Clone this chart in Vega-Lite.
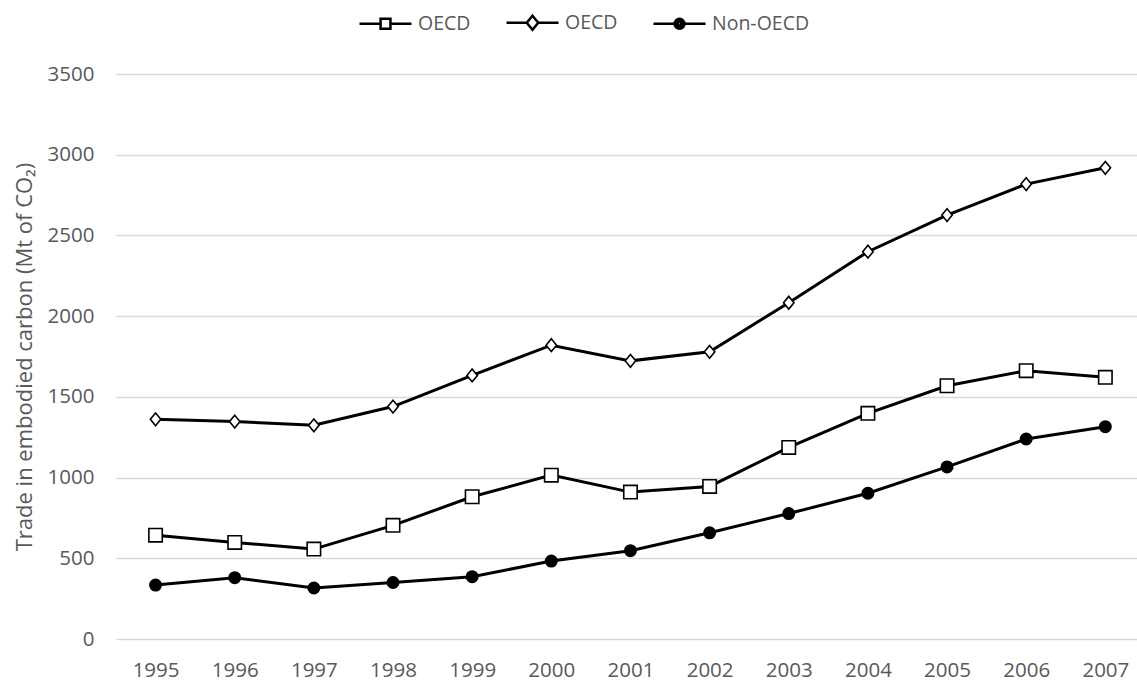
{
  "$schema": "https://vega.github.io/schema/vega-lite/v6.json",
  "width": 1021,
  "height": 565,
  "autosize": {"type": "none"},
  "padding": {"left": 116, "top": 74, "right": 0, "bottom": 42},
  "background": "white",
  "config": {
    "font": "Open Sans",
    "view": {"stroke": null},
    "axis": {"labelFont": "Open Sans", "titleFont": "Open Sans"}
  },
  "data": {
    "values": [
      {"year": 1995, "series": "OECD-1", "value": 643},
      {"year": 1996, "series": "OECD-1", "value": 598},
      {"year": 1997, "series": "OECD-1", "value": 557},
      {"year": 1998, "series": "OECD-1", "value": 704},
      {"year": 1999, "series": "OECD-1", "value": 881},
      {"year": 2000, "series": "OECD-1", "value": 1015},
      {"year": 2001, "series": "OECD-1", "value": 910},
      {"year": 2002, "series": "OECD-1", "value": 945},
      {"year": 2003, "series": "OECD-1", "value": 1187},
      {"year": 2004, "series": "OECD-1", "value": 1398},
      {"year": 2005, "series": "OECD-1", "value": 1569},
      {"year": 2006, "series": "OECD-1", "value": 1662},
      {"year": 2007, "series": "OECD-1", "value": 1621},
      {"year": 1995, "series": "OECD-2", "value": 1361},
      {"year": 1996, "series": "OECD-2", "value": 1347},
      {"year": 1997, "series": "OECD-2", "value": 1324},
      {"year": 1998, "series": "OECD-2", "value": 1440},
      {"year": 1999, "series": "OECD-2", "value": 1633},
      {"year": 2000, "series": "OECD-2", "value": 1820},
      {"year": 2001, "series": "OECD-2", "value": 1723},
      {"year": 2002, "series": "OECD-2", "value": 1779},
      {"year": 2003, "series": "OECD-2", "value": 2083},
      {"year": 2004, "series": "OECD-2", "value": 2399},
      {"year": 2005, "series": "OECD-2", "value": 2626},
      {"year": 2006, "series": "OECD-2", "value": 2818},
      {"year": 2007, "series": "OECD-2", "value": 2919},
      {"year": 1995, "series": "Non-OECD", "value": 334},
      {"year": 1996, "series": "Non-OECD", "value": 380},
      {"year": 1997, "series": "Non-OECD", "value": 316},
      {"year": 1998, "series": "Non-OECD", "value": 350},
      {"year": 1999, "series": "Non-OECD", "value": 386},
      {"year": 2000, "series": "Non-OECD", "value": 483},
      {"year": 2001, "series": "Non-OECD", "value": 547},
      {"year": 2002, "series": "Non-OECD", "value": 658},
      {"year": 2003, "series": "Non-OECD", "value": 777},
      {"year": 2004, "series": "Non-OECD", "value": 903},
      {"year": 2005, "series": "Non-OECD", "value": 1066},
      {"year": 2006, "series": "Non-OECD", "value": 1239},
      {"year": 2007, "series": "Non-OECD", "value": 1315}
    ]
  },
  "encoding": {
    "x": {
      "field": "year",
      "type": "quantitative",
      "scale": {"domain": [1994.5, 2007.4], "nice": false, "zero": false},
      "axis": {
        "values": [1995, 1996, 1997, 1998, 1999, 2000, 2001, 2002, 2003, 2004, 2005, 2006, 2007],
        "format": "d",
        "grid": false,
        "domain": false,
        "ticks": false,
        "labelPadding": 21,
        "labelFontSize": 20.5,
        "labelColor": "#595959",
        "title": null
      }
    },
    "y": {
      "field": "value",
      "type": "quantitative",
      "scale": {"domain": [0, 3500], "nice": false},
      "axis": {
        "values": [0, 500, 1000, 1500, 2000, 2500, 3000, 3500],
        "format": "d",
        "grid": true,
        "gridColor": "#d9d9d9",
        "gridWidth": 1.5,
        "domain": false,
        "ticks": false,
        "labelPadding": 22,
        "labelFontSize": 20.5,
        "labelColor": "#595959",
        "title": "Trade in embodied carbon (Mt of CO₂)",
        "titleFontSize": 22,
        "titleFontWeight": "normal",
        "titleColor": "#595959",
        "titleAngle": -90,
        "titleX": -92,
        "titleY": 282.5,
        "titleBaseline": "middle",
        "titleAlign": "center"
      }
    }
  },
  "layer": [
    {
      "mark": {"type": "line", "color": "black", "strokeWidth": 3},
      "encoding": {"detail": {"field": "series", "type": "nominal"}}
    },
    {
      "mark": {"type": "point", "stroke": "black", "strokeWidth": 1.6, "opacity": 1, "size": 180},
      "encoding": {
        "shape": {
          "field": "series",
          "type": "nominal",
          "scale": {
            "domain": ["OECD-1", "OECD-2", "Non-OECD"],
            "range": ["square", "M0,-0.95L0.78,0L0,0.95L-0.78,0Z", "M-0.85,0A0.85,0.85 0 1,0 0.85,0A0.85,0.85 0 1,0 -0.85,0Z"]
          },
          "legend": null
        },
        "fill": {
          "field": "series",
          "type": "nominal",
          "scale": {"domain": ["OECD-1", "OECD-2", "Non-OECD"], "range": ["white", "white", "black"]},
          "legend": null
        }
      }
    },
    {
      "mark": {"type": "point", "stroke": "black", "strokeWidth": 2.5, "opacity": 0, "size": 2704},
      "encoding": {
        "shape": {
          "field": "series",
          "type": "nominal",
          "scale": {
            "domain": ["OECD-1", "OECD-2", "Non-OECD"],
            "range": [
              "M-1,0H-0.19M0.19,0H1M-0.19,-0.19H0.19V0.19H-0.19Z",
              "M-1,0H-0.22M0.22,0H1M0,-0.27L0.22,0L0,0.27L-0.22,0Z",
              "M-1,0H-0.19M0.19,0H1M-0.19,0A0.19,0.19 0 1,0 0.19,0A0.19,0.19 0 1,0 -0.19,0ZM-0.13,0A0.13,0.13 0 1,0 0.13,0A0.13,0.13 0 1,0 -0.13,0ZM-0.07,0A0.07,0.07 0 1,0 0.07,0A0.07,0.07 0 1,0 -0.07,0ZM-0.02,0A0.02,0.02 0 1,0 0.02,0A0.02,0.02 0 1,0 -0.02,0Z"
            ]
          },
          "legend": {
            "orient": "none",
            "legendX": 242,
            "legendY": -79,
            "direction": "horizontal",
            "title": null,
            "padding": 0,
            "columnPadding": 30,
            "labelOffset": 5,
            "labelFontSize": 19.5,
            "labelColor": "#595959",
            "labelFont": "Open Sans",
            "symbolSize": 2704,
            "symbolStrokeWidth": 2.5,
            "symbolStrokeColor": "black",
            "symbolOpacity": 1,
            "labelExpr": "datum.label == 'Non-OECD' ? 'Non-OECD' : 'OECD'",
            "encode": {
              "symbols": {
                "update": {
                  "opacity": {"value": 1},
                  "strokeOpacity": {"value": 1},
                  "size": {"value": 2704},
                  "stroke": {"value": "black"},
                  "strokeWidth": {"value": 2.5}
                }
              }
            }
          }
        }
      }
    }
  ],
  "resolve": {"scale": {"shape": "independent", "fill": "independent"}}
}
